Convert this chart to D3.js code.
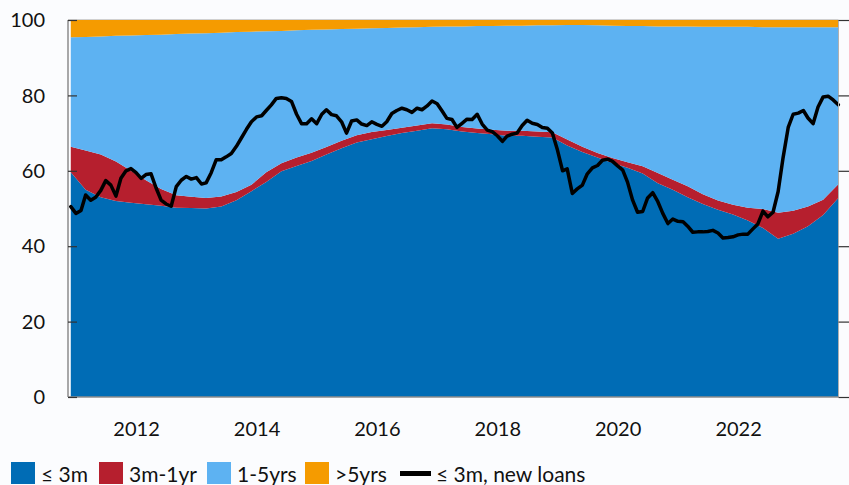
<!DOCTYPE html>
<html>
<head>
<meta charset="utf-8">
<script src="https://cdn.jsdelivr.net/npm/d3@7"></script>
<style>
  body { margin: 0; background: #fbfcfe; }
  svg { display: block; font-family: Lato, "Liberation Sans", sans-serif; }
</style>
</head>
<body>
<div id="chart"></div>
<script>
// quarterly shares of outstanding loans by rate-fixation period (%), Dec 2010 .. Sep 2023
const le3m = [59.6, 55.0, 53.0, 52.0, 51.5, 51.1, 50.7, 50.2, 50.1, 50.0, 50.5, 52.2, 54.6, 57.0, 59.9, 61.3,
  62.6, 64.3, 66.0, 67.5, 68.4, 69.2, 70.0, 70.6, 71.3, 71.0, 70.4, 70.0, 69.7, 69.3, 69.3, 69.0,
  68.8, 66.7, 65.0, 63.5, 62.1, 60.8, 59.3, 56.7, 55.0, 53.0, 51.2, 49.7, 48.4, 46.8, 44.8, 42.0,
  43.3, 45.3, 48.3, 52.8];
const m3to1y = [6.8, 10.4, 11.3, 10.5, 8.5, 6.4, 4.5, 3.3, 3.0, 2.8, 2.7, 2.2, 1.7, 2.6, 2.1, 2.2,
  2.2, 2.0, 2.0, 1.9, 1.9, 1.6, 1.4, 1.4, 1.3, 1.3, 1.2, 1.2, 1.2, 1.3, 1.3, 1.4,
  1.4, 1.6, 1.4, 1.2, 1.3, 1.5, 1.9, 2.7, 2.6, 2.9, 2.6, 2.4, 2.6, 3.4, 5.1, 6.9,
  6.1, 5.2, 4.0, 3.6];
const y1to5 = [29.0, 30.1, 31.3, 33.3, 35.9, 38.5, 40.9, 42.8, 43.3, 43.7, 43.4, 42.4, 40.6, 37.4, 35.1, 33.8,
  32.6, 31.2, 29.6, 28.3, 27.5, 27.1, 26.6, 26.1, 25.6, 26.0, 26.7, 27.2, 27.5, 27.9, 27.9, 28.2,
  28.4, 30.4, 32.3, 33.9, 35.1, 36.1, 37.2, 38.9, 40.7, 42.4, 44.4, 46.1, 47.2, 48.0, 48.2, 49.2,
  48.7, 47.6, 45.8, 41.7];
const gt5 = [4.6, 4.5, 4.4, 4.2, 4.1, 4.0, 3.9, 3.7, 3.6, 3.5, 3.4, 3.2, 3.1, 3.0, 2.9, 2.7,
  2.6, 2.5, 2.4, 2.3, 2.2, 2.1, 2.0, 1.9, 1.8, 1.7, 1.7, 1.6, 1.6, 1.5, 1.5, 1.4,
  1.4, 1.3, 1.3, 1.4, 1.5, 1.6, 1.6, 1.7, 1.7, 1.7, 1.8, 1.8, 1.8, 1.8, 1.9, 1.9,
  1.9, 1.9, 1.9, 1.9];

// monthly share of new loans with rate fixation <= 3m (%), Dec 2010 .. Sep 2023
const newLoans = [50.5, 48.7, 49.5, 53.6, 52.2, 53.0, 54.8, 57.4, 56.2, 53.3, 58.0, 60.0, 60.6,
  59.5, 58.0, 59.0, 59.2, 55.5, 52.2, 51.2, 50.6, 55.8, 57.5, 58.5, 57.8,
  58.2, 56.5, 56.8, 59.5, 62.9, 62.9, 63.7, 64.6, 66.5, 68.7, 71.0, 73.0,
  74.3, 74.6, 76.0, 77.5, 79.2, 79.4, 79.2, 78.4, 75.0, 72.5, 72.5, 73.8,
  72.5, 75.0, 76.2, 74.9, 74.6, 73.0, 70.0, 73.2, 73.5, 72.4, 72.0, 73.0,
  72.3, 71.8, 73.0, 75.2, 76.0, 76.6, 76.2, 75.5, 76.6, 76.2, 77.2, 78.5,
  77.8, 75.8, 73.9, 73.6, 71.5, 72.6, 73.7, 73.6, 75.0, 72.4, 70.8, 70.4,
  69.3, 67.8, 69.2, 69.7, 70.0, 72.0, 73.4, 72.6, 72.3, 71.5, 71.3, 70.0,
  65.5, 60.0, 60.5, 54.0, 55.2, 56.2, 59.2, 60.8, 61.4, 62.8, 63.1, 62.5,
  61.3, 60.2, 57.0, 52.2, 49.0, 49.2, 52.8, 54.2, 51.8, 48.7, 46.0, 47.2,
  46.6, 46.5, 45.3, 43.7, 43.8, 43.8, 43.9, 44.2, 43.5, 42.2, 42.3, 42.5,
  43.0, 43.2, 43.2, 44.6, 45.9, 49.3, 47.8, 49.0, 54.5, 63.5, 71.5, 75.0,
  75.3, 76.0, 74.0, 72.5, 76.9, 79.6, 79.8, 78.8, 77.5];

const seriesKeys = ['le3m', 'm3to1y', 'y1to5', 'gt5'];
const seriesNames = ['≤ 3m', '3m-1yr', '1-5yrs', '>5yrs'];
const seriesColors = ['#006cb5', '#b61f2e', '#5db2f2', '#f59b00'];
const lineName = '≤ 3m, new loans';
const yTicks = [0, 20, 40, 60, 80, 100];
const xTickYears = [2012, 2014, 2016, 2018, 2020, 2022];

const startMonth = new Date(2010, 11, 1);
const endMonth = new Date(2023, 8, 1);
const monthDates = d3.timeMonth.range(startMonth, d3.timeMonth.offset(endMonth, 1));
const quarterDates = monthDates.filter((d, i) => i % 3 === 0);

const table = quarterDates.map((d, i) => ({
  date: d, le3m: le3m[i], m3to1y: m3to1y[i], y1to5: y1to5[i], gt5: gt5[i]
}));
const lineData = monthDates.map((d, i) => ({ date: d, v: newLoans[i] }));

const width = 849, height = 485;
const margin = { top: 20, right: 11, bottom: 88, left: 68 };
const plotL = 70.8, plotR = 838.3;
const fontFamily = 'Lato, "Liberation Sans", sans-serif';

const svg = d3.select('#chart').append('svg')
  .attr('width', width)
  .attr('height', height);

const x = d3.scaleTime()
  .domain([startMonth, endMonth])
  .range([plotL, plotR]);
const y = d3.scaleLinear()
  .domain([0, 100])
  .range([height - margin.bottom, margin.top]);

const stacked = d3.stack().keys(seriesKeys)(table);

const area = d3.area()
  .x(d => x(d.data.date))
  .y0(d => y(d[0]))
  .y1(d => y(d[1]));

svg.append('g')
  .selectAll('path')
  .data(stacked)
  .join('path')
  .attr('fill', (d, i) => seriesColors[i])
  .attr('d', area);

svg.append('path')
  .datum(lineData)
  .attr('fill', 'none')
  .attr('stroke', '#000')
  .attr('stroke-width', 3.5)
  .attr('stroke-linejoin', 'round')
  .attr('stroke-linecap', 'round')
  .attr('d', d3.line().x(d => x(d.date)).y(d => y(d.v)));

// frame lines
const y0 = y(0), yTop = y(100);
svg.append('line').attr('x1', 68).attr('x2', 838.5).attr('y1', yTop - 0.5).attr('y2', yTop - 0.5)
  .attr('stroke', '#d0d0d0').attr('stroke-width', 1);
svg.append('line').attr('x1', 68).attr('x2', 68).attr('y1', yTop).attr('y2', y0)
  .attr('stroke', '#8c8c8c').attr('stroke-width', 1.5);
svg.append('line').attr('x1', 838.5).attr('x2', 838.5).attr('y1', yTop).attr('y2', y0)
  .attr('stroke', '#b0b0b0').attr('stroke-width', 1);
svg.append('line').attr('x1', 68).attr('x2', 838.5).attr('y1', y0).attr('y2', y0)
  .attr('stroke', '#8c8c8c').attr('stroke-width', 1.5);

// left axis: ticks pointing into the plot
const yAxisL = svg.append('g')
  .attr('transform', 'translate(68,0)')
  .call(d3.axisRight(y).tickValues(yTicks).tickSize(9).tickFormat(''));
yAxisL.select('.domain').remove();
yAxisL.selectAll('line').attr('stroke', '#333').attr('stroke-width', 1.2);

svg.append('g')
  .selectAll('text')
  .data(yTicks)
  .join('text')
  .attr('x', 45)
  .attr('y', d => y(d))
  .attr('dy', '0.36em')
  .attr('text-anchor', 'end')
  .attr('font-size', 20)
  .attr('fill', '#111')
  .text(d => d);

// right axis: ticks outside, no labels
const yAxisR = svg.append('g')
  .attr('transform', 'translate(838.5,0)')
  .call(d3.axisRight(y).tickValues(yTicks).tickSize(11).tickFormat(''));
yAxisR.select('.domain').remove();
yAxisR.selectAll('line').attr('stroke', '#333').attr('stroke-width', 1.2);

// x labels
const xAxis = svg.append('g')
  .attr('transform', `translate(0,${y0})`)
  .call(d3.axisBottom(x)
    .tickValues(xTickYears.map(yr => new Date(yr, 0, 1)))
    .tickSize(0)
    .tickPadding(25)
    .tickFormat(d3.timeFormat('%Y')));
xAxis.select('.domain').remove();
xAxis.selectAll('text')
  .attr('font-size', 20)
  .attr('font-family', fontFamily)
  .attr('fill', '#111');

// legend
const legendItems = seriesNames.map((n, i) => ({ name: n, color: seriesColors[i], type: 'box' }))
  .concat([{ name: lineName, color: '#000', type: 'line' }]);
const legendX = [11, 99, 207, 305, 400];
const legend = svg.append('g').attr('transform', 'translate(0,462)');
legendItems.forEach((it, i) => {
  const g = legend.append('g').attr('transform', `translate(${legendX[i]},0)`);
  if (it.type === 'box') {
    g.append('rect').attr('width', 24).attr('height', 22).attr('fill', it.color);
  } else {
    g.append('rect').attr('y', 9).attr('width', 31).attr('height', 5).attr('fill', it.color);
  }
  g.append('text')
    .attr('x', it.type === 'box' ? 30 : 36)
    .attr('y', 12)
    .attr('dy', '0.36em')
    .attr('font-size', 21)
    .attr('fill', '#111')
    .text(it.name);
});
</script>
</body>
</html>
